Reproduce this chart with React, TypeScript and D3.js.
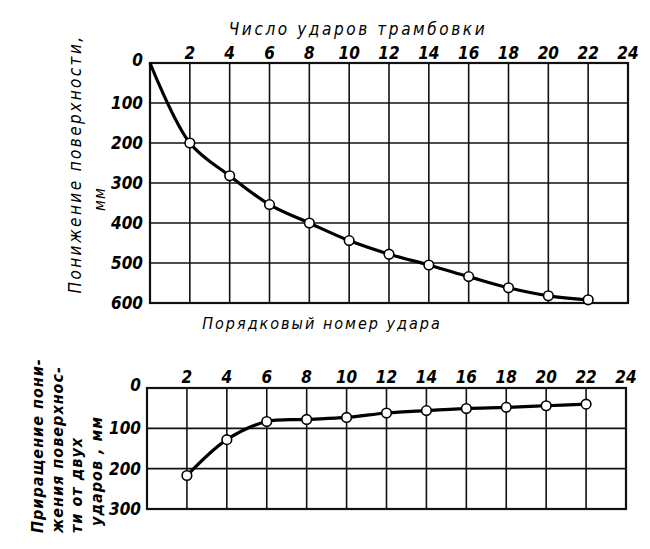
import React from "react";
import * as d3 from "d3";

const blows = [2, 4, 6, 8, 10, 12, 14, 16, 18, 20, 22];
const settlement = [200, 282, 354, 400, 444, 478, 505, 534, 562, 582, 592];
const increment = [217, 128, 83, 78, 73, 62, 56, 51, 48, 44, 40];
const xTicks = [2, 4, 6, 8, 10, 12, 14, 16, 18, 20, 22, 24];
const topYTicks = [0, 100, 200, 300, 400, 500, 600];
const botYTicks = [0, 100, 200, 300];

const FONT = "'DejaVu Sans Condensed', 'DejaVu Sans', sans-serif";

export default function App() {
  const xTop = d3.scaleLinear().domain([0, 24]).range([150, 628]);
  const yTop = d3.scaleLinear().domain([0, 600]).range([63, 303]);
  const xBot = d3.scaleLinear().domain([0, 24]).range([147, 626]);
  const yBot = d3.scaleLinear().domain([0, 300]).range([388, 509]);

  const topPts: [number, number][] = [[0, 0], ...blows.map((b, i) => [b, settlement[i]] as [number, number])];
  const botPts: [number, number][] = blows.map((b, i) => [b, increment[i]] as [number, number]);

  const topLine = d3
    .line<[number, number]>()
    .x((d) => xTop(d[0]))
    .y((d) => yTop(d[1]))
    .curve(d3.curveCatmullRom.alpha(0.5));
  const botLine = d3
    .line<[number, number]>()
    .x((d) => xBot(d[0]))
    .y((d) => yBot(d[1]))
    .curve(d3.curveCatmullRom.alpha(0.5));

  const tickStyle: React.CSSProperties = {
    fontFamily: FONT,
    fontStyle: "italic",
    fontWeight: "bold",
    fontSize: 17,
  };
  const labelStyle: React.CSSProperties = {
    fontFamily: FONT,
    fontStyle: "italic",
    fontSize: 16,
    letterSpacing: 1.2,
  };

  return (
    <svg
      width={650}
      height={549}
      style={{ position: "absolute", left: 0, top: 0, background: "#fff" }}
    >
      <rect x={0} y={0} width={650} height={549} fill="#fff" />
      {/* ---------- Top chart ---------- */}
      <g stroke="#111" strokeWidth={1.6} fill="none">
        {xTicks.map((t) => (
          <line key={"tv" + t} x1={xTop(t)} x2={xTop(t)} y1={yTop(0)} y2={yTop(600)} />
        ))}
        {topYTicks.map((t) => (
          <line key={"th" + t} x1={xTop(0)} x2={xTop(24)} y1={yTop(t)} y2={yTop(t)} />
        ))}
        <rect
          x={xTop(0)}
          y={yTop(0)}
          width={xTop(24) - xTop(0)}
          height={yTop(600) - yTop(0)}
          strokeWidth={2.2}
        />
      </g>
      <path d={topLine(topPts) || ""} fill="none" stroke="#000" strokeWidth={3.2} />
      {blows.map((b, i) => (
        <circle
          key={"tc" + b}
          cx={xTop(b)}
          cy={yTop(settlement[i])}
          r={4.8}
          fill="#fff"
          stroke="#000"
          strokeWidth={1.6}
        />
      ))}
      {xTicks.map((t) => (
        <text key={"tx" + t} x={xTop(t)} y={59} textAnchor="middle" style={tickStyle}>
          {t}
        </text>
      ))}
      {topYTicks.map((t) => (
        <text
          key={"ty" + t}
          x={143}
          y={yTop(t) + (t === 0 ? 3 : 6)}
          textAnchor="end"
          style={tickStyle}
        >
          {t}
        </text>
      ))}
      <text x={358} y={35} textAnchor="middle" style={{ ...labelStyle, fontSize: 17, letterSpacing: 2.6 }}>
        Число ударов трамбовки
      </text>
      <text x={322} y={329} textAnchor="middle" style={{ ...labelStyle, letterSpacing: 2 }}>
        Порядковый номер удара
      </text>
      <text
        transform="translate(81,164) rotate(-90)"
        textAnchor="middle"
        style={{ ...labelStyle, fontSize: 17, letterSpacing: 2.4 }}
      >
        Понижение поверхности,
      </text>
      <text transform="translate(105,199) rotate(-90)" textAnchor="middle" style={labelStyle}>
        мм
      </text>

      {/* ---------- Bottom chart ---------- */}
      <g stroke="#111" strokeWidth={1.6} fill="none">
        {xTicks.map((t) => (
          <line key={"bv" + t} x1={xBot(t)} x2={xBot(t)} y1={yBot(0)} y2={yBot(300)} />
        ))}
        {botYTicks.map((t) => (
          <line key={"bh" + t} x1={xBot(0)} x2={xBot(24)} y1={yBot(t)} y2={yBot(t)} />
        ))}
        <rect
          x={xBot(0)}
          y={yBot(0)}
          width={xBot(24) - xBot(0)}
          height={yBot(300) - yBot(0)}
          strokeWidth={2.2}
        />
      </g>
      <path d={botLine(botPts) || ""} fill="none" stroke="#000" strokeWidth={3.2} />
      {blows.map((b, i) => (
        <circle
          key={"bc" + b}
          cx={xBot(b)}
          cy={yBot(increment[i])}
          r={4.8}
          fill="#fff"
          stroke="#000"
          strokeWidth={1.6}
        />
      ))}
      {xTicks.map((t) => (
        <text key={"bx" + t} x={xBot(t)} y={383} textAnchor="middle" style={tickStyle}>
          {t}
        </text>
      ))}
      {botYTicks.map((t) => (
        <text
          key={"by" + t}
          x={141}
          y={yBot(t) + (t === 0 ? 3 : 6)}
          textAnchor="end"
          style={tickStyle}
        >
          {t}
        </text>
      ))}
      {[
        { x: 43, s: "Приращение пони-" },
        { x: 63, s: "жения поверхнос-" },
        { x: 82, s: "ти от двух" },
        { x: 102, s: "ударов , мм" },
      ].map((l, i) => (
        <text
          key={"bl" + i}
          transform={`translate(${l.x},${i === 3 ? 526 : 533}) rotate(-90)`}
          textAnchor="start"
          style={{ ...labelStyle, fontWeight: "bold", letterSpacing: 1 }}
        >
          {l.s}
        </text>
      ))}
    </svg>
  );
}
